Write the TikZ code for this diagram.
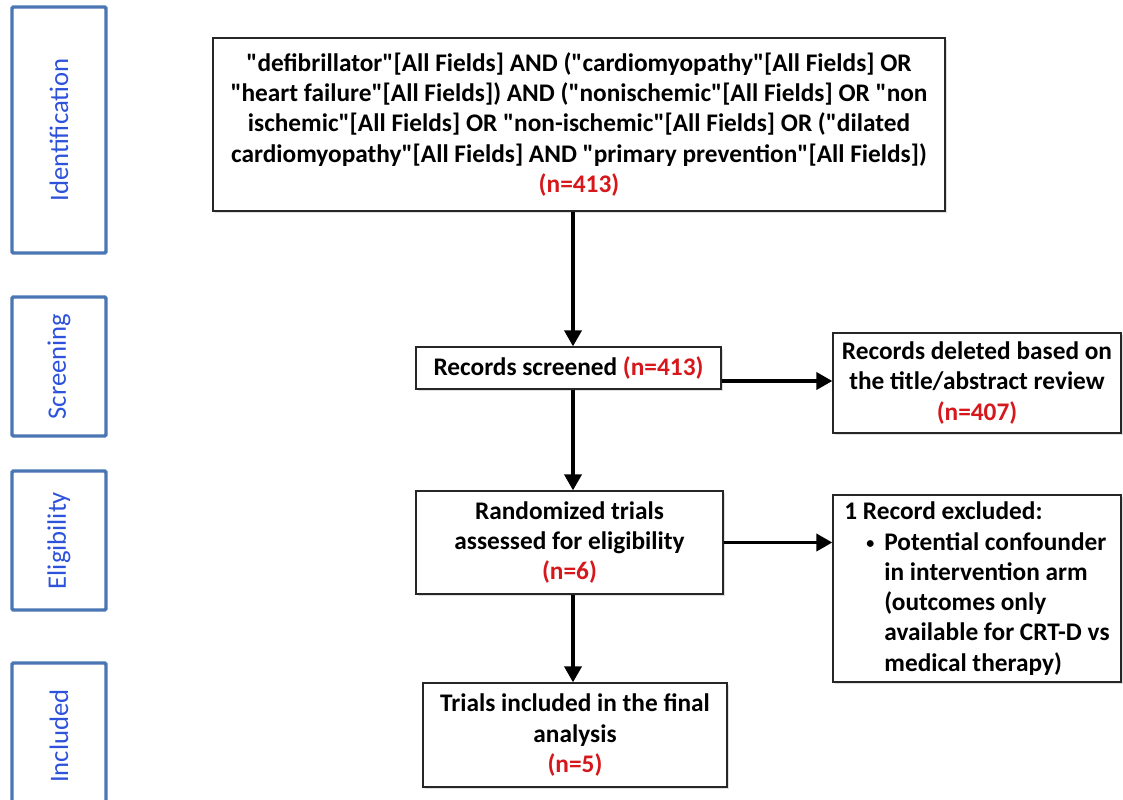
\documentclass[tikz,border=0pt]{standalone}
\usepackage{fontspec}
\setmainfont{Carlito}[Ligatures=TeXOff]
\usetikzlibrary{arrows.meta,shadows}
\definecolor{stageblue}{RGB}{74,118,180}
\definecolor{stagetext}{RGB}{45,82,220}
\definecolor{nred}{RGB}{214,24,28}
\newcommand{\nval}[1]{\textcolor{nred}{#1}}
\newcommand{\smallbullet}{\raisebox{1.5pt}{\fontsize{12}{12}\selectfont\textbullet}}
\tikzset{
  stage/.style={draw=stageblue, line width=2.6pt, rounded corners=1pt, fill=white, rotate=90, minimum height=70.5pt, text=stagetext, font=\fontsize{20}{23}\selectfont},
  flowbox/.style={draw=black!85, line width=1.1pt, fill=white, align=center, font=\bfseries\fontsize{19}{22.7}\selectfont, drop shadow={shadow xshift=1.2pt, shadow yshift=-1.2pt, opacity=0.25}},
  flowarrow/.style={line width=2.3pt, -{Triangle[length=12pt,width=13pt]}}
}
\begin{document}
\begin{tikzpicture}[x=0.75pt,y=-0.75pt]
\useasboundingbox (0,0) rectangle (1123,799);
\clip (0,0) rectangle (1123,799);
\node[stage, minimum width=184.5pt] (ident) at (59,130) {Identification};
\node[stage, minimum width=104.25pt] (screen) at (59,366.5) {Screening};
\node[stage, minimum width=104.25pt] (elig) at (59,540.5) {Eligibility};
\node[stage, minimum width=109.5pt] (incl) at (59,736) {Included};
\node[flowbox, minimum width=549pt, minimum height=129.75pt] (search) at (579,124.5) {"defibrillator"[All Fields] AND ("cardiomyopathy"[All Fields] OR\\
"heart failure"[All Fields]) AND ("nonischemic"[All Fields] OR "non\\
ischemic"[All Fields] OR "non-ischemic"[All Fields] OR ("dilated\\
cardiomyopathy"[All Fields] AND "primary prevention"[All Fields])\\
\nval{(n=413)}};
\node[flowbox, minimum width=228.75pt, minimum height=31.5pt] (screened) at (568.5,368) {Records screened \nval{(n=413)}};
\node[flowbox, minimum width=216pt, minimum height=75pt] (deleted) at (977,383) {Records deleted based on\\ the title/abstract review\\ \nval{(n=407)}};
\node[flowbox, minimum width=230.25pt, minimum height=77.25pt] (rand) at (569.5,542.5) {Randomized trials\\ assessed for eligibility\\ \nval{(n=6)}};
\node[flowbox, minimum width=216pt, minimum height=140.25pt, align=left] (excl) at (977,588.5) {1 Record excluded:\\
\hspace*{16.5pt}\makebox[13.5pt][l]{\smallbullet}Potential confounder\\
\hspace*{30pt}in intervention arm\\
\hspace*{30pt}(outcomes only\\
\hspace*{30pt}available for CRT-D vs\\
\hspace*{30pt}medical therapy)};
\node[flowbox, minimum width=228pt, minimum height=78pt] (trials) at (575,735) {Trials included in the final\\ analysis\\ \nval{(n=5)}};
\coordinate (spine) at (573,0);
\coordinate (sd) at ([yshift=-9.75pt]screened.east);
\draw[flowarrow] (search.south -| spine) -- (screened.north -| spine);
\draw[flowarrow] (screened.south -| spine) -- (rand.north -| spine);
\draw[flowarrow] (rand.south -| spine) -- (trials.north -| spine);
\draw[flowarrow] (sd) -- (sd -| deleted.west);
\draw[flowarrow] (rand.east) -- (rand.east -| excl.west);
\end{tikzpicture}
\end{document}
